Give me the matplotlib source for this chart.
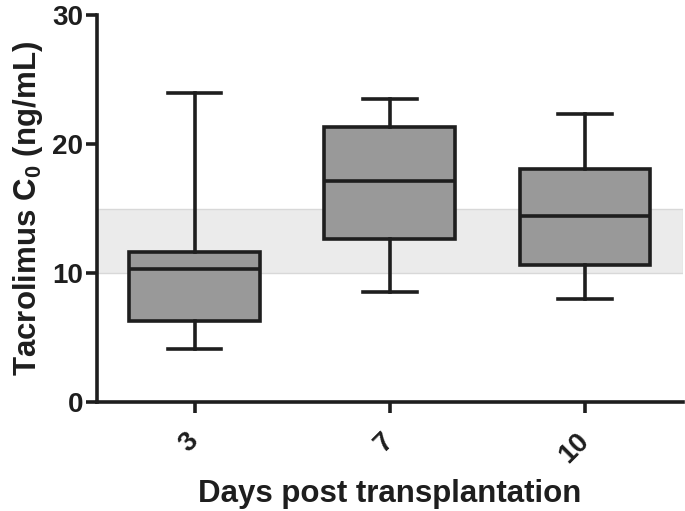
import matplotlib
matplotlib.use("Agg")
import matplotlib.pyplot as plt

# ─────────────────────────────────────────
# DATEN
# ─────────────────────────────────────────
days = ["3", "7", "10"]
whisker_low = [4.1, 8.5, 8.0]
q1 = [6.25, 12.65, 10.6]
median = [10.35, 17.15, 14.4]
q3 = [11.6, 21.3, 18.1]
whisker_high = [24.0, 23.5, 22.3]
target_range = (10, 15)

plt.rcParams['font.family'] = ['Liberation Sans', 'DejaVu Sans']
plt.rcParams['font.weight'] = 'bold'
plt.rcParams['mathtext.fontset'] = 'custom'
plt.rcParams['mathtext.bf'] = 'Liberation Sans:bold'
plt.rcParams['mathtext.rm'] = 'Liberation Sans:bold'

fig = plt.figure(figsize=(6.85, 5.11), dpi=100)
ax = fig.add_axes([0.1416, 0.2133, 0.855, 0.757])

ax.axhspan(*target_range, color='#ebebeb', ec='#d8d8d8', lw=1, zorder=0)

stats = []
for i, d in enumerate(days):
    stats.append({'label': d, 'whislo': whisker_low[i], 'q1': q1[i], 'med': median[i],
                  'q3': q3[i], 'whishi': whisker_high[i], 'fliers': []})

dark = '#1e1e1e'
lw = 2.6
ax.bxp(stats, positions=[1, 2, 3], widths=0.67, patch_artist=True, showfliers=False,
       boxprops=dict(facecolor='#999999', edgecolor=dark, linewidth=lw),
       medianprops=dict(color=dark, linewidth=lw),
       whiskerprops=dict(color=dark, linewidth=lw),
       capprops=dict(color=dark, linewidth=lw),
       capwidths=0.275, zorder=2)

ax.set_xlim(0.5, 3.5)
ax.set_ylim(0, 30)
ax.set_yticks([0, 10, 20, 30])
ax.set_xticks([1, 2, 3])
ax.set_xticklabels(days, rotation=45, ha='right', va='center', rotation_mode='anchor')

for s in ['top', 'right']:
    ax.spines[s].set_visible(False)
for s in ['left', 'bottom']:
    ax.spines[s].set_linewidth(2.6)
    ax.spines[s].set_color(dark)

ax.tick_params(axis='both', width=2.6, length=8, color=dark, labelsize=20, labelcolor=dark)
ax.tick_params(axis='x', pad=17)
ax.tick_params(axis='y', pad=2)

ax.set_ylabel(r'Tacrolimus C$_{\mathbf{0}}$ (ng/mL)', fontsize=22.5, fontweight='bold', color=dark, labelpad=5)
ax.set_xlabel('Days post transplantation', fontsize=22.5, fontweight='bold', color=dark, labelpad=8)

plt.savefig("out.png", dpi=100)
